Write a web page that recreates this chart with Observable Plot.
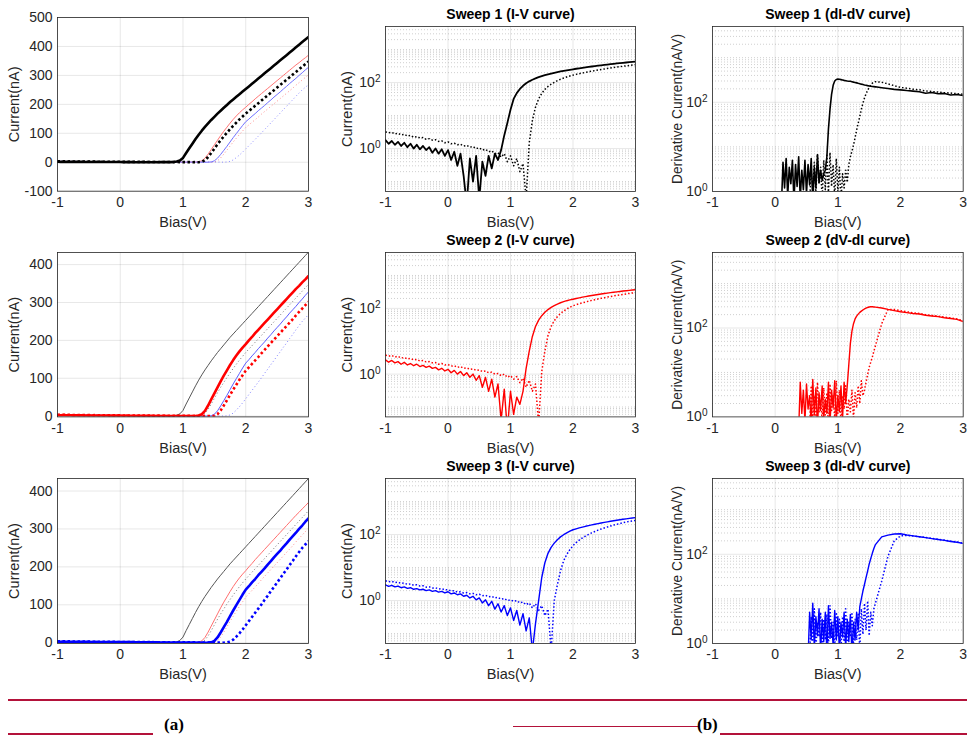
<!DOCTYPE html>
<html>
<head>
<meta charset="utf-8">
<script src="https://cdn.jsdelivr.net/npm/d3@7"></script>
<script src="https://cdn.jsdelivr.net/npm/@observablehq/plot@0.6"></script>
<style>
  html, body { margin: 0; padding: 0; background: #fff; }
  #root { position: relative; width: 967px; height: 738px; overflow: hidden; background: #fff; }
  .panel { position: absolute; }
  .panel svg { max-width: none !important; overflow: visible; }
  .bar { position: absolute; background: #b3123a; }
  .tag { position: absolute; font: bold 17px "Liberation Serif", "Times New Roman", serif; color: #000; line-height: 1; }
</style>
</head>
<body>
<div id="root"></div>
<script>
// ---------------- DATA ----------------
const _ = null;

// bias grid for I-V curves (V)
const bias = [
  -1.00,-0.95,-0.90,-0.85,-0.80,-0.75,-0.70,-0.65,-0.60,-0.55,
  -0.50,-0.45,-0.40,-0.35,-0.30,-0.25,-0.20,-0.15,-0.10,-0.05,
   0.00, 0.05, 0.10, 0.15, 0.20, 0.25, 0.30, 0.35, 0.40, 0.45,
   0.50, 0.55, 0.60, 0.65, 0.70, 0.75, 0.80, 0.85, 0.90, 0.95,
   1.00, 1.05, 1.10, 1.15, 1.20, 1.25, 1.30, 1.35, 1.40, 1.45,
   1.50, 1.55, 1.60, 1.65, 1.70, 1.75, 1.80, 1.85, 1.90, 1.95,
   2.00, 2.05, 2.10, 2.15, 2.20, 2.25, 2.30, 2.35, 2.40, 2.45,
   2.50, 2.55, 2.60, 2.65, 2.70, 2.75, 2.80, 2.85, 2.90, 2.95,
   3.00
];

// |current| (nA), sweep 1 forward (solid) / reverse (dotted)
const sweep1Fwd = [
  1.8,1.4,1.7,1.3,1.6,1.2,1.5,1.1,1.4,1.0,
  1.3,0.95,1.2,0.9,1.1,0.75,1.0,0.7,0.95,0.6,
  0.9,0.45,0.8,0.3,0.7,0.15,0.02,0.5,0.1,0.6,
  0.03,0.4,0.15,0.6,0.25,0.7,0.45,0.9,2.5,6,
  15,32,48,64,80,95,109,122,134,146,
  157,168,178,188,198,208,217,226,235,244,
  253,262,271,280,289,298,307,316,325,334,
  343,352,361,370,379,388,397,406,415,424,
  433
];
const sweep1Rev = [
  3.2,3.0,3.1,2.8,2.9,2.6,2.7,2.4,2.5,2.2,
  2.3,2.1,2.15,1.9,2.0,1.8,1.85,1.65,1.7,1.5,
  1.6,1.4,1.45,1.3,1.35,1.2,1.25,1.1,1.15,1.0,
  1.05,0.9,0.95,0.8,0.85,0.7,0.75,0.55,0.7,0.4,
  0.6,0.3,0.5,0.2,0.35,0.03,1.5,7,18,32,
  47,62,76,89,102,114,126,137,148,158,
  168,177,186,195,204,213,222,231,240,249,
  258,267,276,285,294,303,312,321,330,339,
  348
];
// sweep 2
const sweep2Fwd = [
  2.7,2.3,2.6,2.2,2.4,2.0,2.3,1.9,2.1,1.8,
  2.0,1.7,1.85,1.6,1.75,1.5,1.6,1.35,1.5,1.25,
  1.4,1.1,1.3,1.0,1.2,0.9,1.1,0.8,1.0,0.65,
  0.9,0.4,0.8,0.3,0.7,0.2,0.5,0.04,0.35,0.02,
  0.3,0.06,0.2,0.12,0.3,1.5,5,14,28,44,
  60,76,92,107,121,135,148,160,171,181,
  190,200,209,219,228,237,246,255,264,273,
  282,291,300,309,318,327,336,344,353,361,
  370
];
const sweep2Rev = [
  3.8,3.5,3.7,3.3,3.5,3.1,3.2,2.9,3.0,2.7,
  2.8,2.5,2.6,2.35,2.4,2.2,2.25,2.0,2.1,1.9,
  1.95,1.75,1.8,1.6,1.7,1.5,1.55,1.4,1.45,1.3,
  1.35,1.2,1.25,1.1,1.15,1.0,1.05,0.9,1.0,0.8,
  0.9,0.7,0.85,0.55,0.75,0.4,0.65,0.3,0.5,0.03,
  1.2,5,15,28,42,56,70,83,96,108,
  120,129,138,147,156,166,175,184,193,202,
  211,220,229,238,247,256,266,275,284,293,
  302
];
// sweep 3
const sweep3Fwd = [
  3.0,2.7,2.9,2.6,2.75,2.45,2.6,2.35,2.45,2.2,
  2.3,2.1,2.2,2.0,2.1,1.9,2.0,1.8,1.9,1.7,
  1.85,1.6,1.7,1.5,1.6,1.35,1.45,1.2,1.35,1.05,
  1.2,0.85,1.05,0.7,0.95,0.55,0.8,0.45,0.7,0.35,
  0.6,0.25,0.5,0.18,0.4,0.12,0.3,0.03,0.2,1.0,
  5,14,27,41,55,70,85,99,113,127,
  140,149,159,168,178,187,196,206,215,225,
  234,243,253,262,272,281,290,300,309,319,
  328
];
const sweep3Rev = [
  4.0,3.7,3.85,3.5,3.6,3.3,3.4,3.1,3.2,2.9,
  3.0,2.75,2.8,2.55,2.6,2.4,2.45,2.25,2.3,2.1,
  2.15,1.95,2.0,1.8,1.85,1.7,1.75,1.6,1.65,1.5,
  1.55,1.4,1.45,1.3,1.35,1.2,1.25,1.1,1.15,1.0,
  1.05,0.95,1.0,0.85,0.9,0.75,0.85,0.6,0.8,0.5,
  0.7,0.35,0.55,0.03,1.0,3,8,16,25,35,
  46,57,68,79,90,101,113,124,136,147,
  159,170,182,193,205,216,228,239,250,259,
  268
];

// bias grid for derivative curves (V)
const dBias = [
  0.100,0.125,0.150,0.175, 0.200,0.225,0.250,0.275, 0.300,0.325,0.350,0.375,
  0.400,0.425,0.450,0.475, 0.500,0.525,0.550,0.575, 0.600,0.625,0.650,0.675,
  0.700,0.725,0.750,0.775, 0.800,0.825,0.850,0.875, 0.900,0.925,0.950,0.975,
  1.000,1.025,1.050,1.075, 1.100,1.125,1.150,1.175, 1.200,1.225,1.250,1.275,
  1.300,1.325,1.350,1.375, 1.400,1.425,1.450,1.475, 1.500,1.525,1.550,1.575,
  1.600,
  1.7,1.8,1.9,2.0,2.1,2.2,2.3,2.4,2.5,2.6,2.7,2.8,2.9,3.0
];

// dI/dV (nA/V)
const dSweep1Fwd = [
  0.5,4.5,1.2,5.5, 0.8,3.5,1.5,5, 0.6,4,1.3,6,
  0.7,3,1.1,5, 0.9,4,1.4,5.5, 0.6,3.5,1.2,6.5,
  1.6,3,1.8,2.5, 3,6,25,70, 150,240,300,325,
  330,328,322,316, 310,305,300,297, 295,289,283,278,
  272,266,261,255, 250,245,241,236, 232,229,226,224,
  222,
  212,203,195,190,183,178,172,160,166,155,158,146,150,142
];
const dSweep1Rev = [
  _,_,_,_, _,_,_,_, _,_,_,_,
  _,_,_,_, _,_,0.6,3, 1.2,4.5,0.8,7,
  1.5,3.5,0.7,5, 1.1,6.5,0.9,7.5, 1.3,4,0.7,5.5,
  1.0,3.5,0.6,2.5, 1.2,3,1.6,4, 6,8,11,16,
  24,34,48,70, 95,125,155,185, 215,245,268,282,
  290,
  282,258,236,215,207,196,190,180,174,170,163,162,155,152
];
const dSweep2Fwd = [
  _,_,_,_, _,_,_,_, _,_,_,0.5,
  6,1.2,4,0.8, 5.5,1.5,3,0.7, 7,1.1,4.5,0.6,
  3.5,1.4,5,0.9, 2.5,1.2,6,0.7, 4,1.6,6.5,0.8,
  3,1.3,5,0.9, 6,2,5,15, 45,85,125,160,
  185,205,225,240, 255,268,280,290, 297,300,300,298,
  295,
  282,262,246,232,222,212,206,194,186,180,170,164,156,140
];
const dSweep2Rev = [
  _,_,_,_, _,_,_,_, _,_,_,_,
  _,_,_,_, _,_,0.6,5, 1.0,3,0.7,6,
  1.3,2.5,0.8,4.5, 1.1,3.5,0.6,5.5, 1.4,3,0.9,6.5,
  1.2,4,0.7,3, 1.5,5,0.8,2.5, 1.3,4,0.9,3.5,
  1.6,5,2,6.5, 3,4,6,9, 13,17,22,30,
  40,
  125,262,262,245,232,220,212,200,192,185,175,168,160,146
];
const dSweep3Fwd = [
  _,_,_,_, _,_,_,_, _,_,_,_,
  _,_,_,_, _,0.5,5,1.2, 8,0.8,4,1.5,
  6,0.7,3.5,1.1, 5,0.6,7,1.3, 3,0.9,5.5,1.2,
  4,0.7,3,1.4, 5,0.8,3.5,1.1, 4.5,0.6,3,1.2,
  5,2,6.6,10, 15,21,30,42, 60,80,105,135,
  165,
  245,268,285,288,270,258,248,236,225,214,205,194,186,175
];
const dSweep3Rev = [
  _,_,_,_, _,_,_,_, _,_,_,_,
  _,_,_,_, _,_,0.6,4, 1.1,6,0.8,3,
  1.4,5,0.7,3.5, 1.2,4.5,0.9,7, 1.3,3,0.8,5,
  1.5,3.5,0.7,4, 1.1,6,0.9,3, 1.4,5,0.8,3.5,
  1.2,4.5,0.7,6, 1.6,8,2,9, 1.5,5,2.5,6,
  8,
  25,90,200,258,264,258,248,238,228,218,208,198,188,178
];

// ticks and grid values
const biasTicks = [-1, 0, 1, 2, 3];
const linTicksTop = [-100, 0, 100, 200, 300, 400, 500];
const linTicks = [0, 100, 200, 300, 400];
const logTicks = [1, 100];
const ivMinorGrid = [0.06,0.07,0.08,0.09,0.1,0.2,0.3,0.4,0.5,0.6,0.7,0.8,0.9,
  2,3,4,5,6,7,8,9,10,20,30,40,50,60,70,80,90,200,300,400,500,600,700,800,900,1000,2000,3000,4000];
const dMinorGrid = [2,3,4,5,6,7,8,9,10,20,30,40,50,60,70,80,90,200,300,400,500,600,700,800,900,1000,2000,3000,4000];

const titlesIV = ["Sweep 1 (I-V curve)", "Sweep 2 (I-V curve)", "Sweep 3 (I-V curve)"];
const titlesD = ["Sweep 1 (dI-dV curve)", "Sweep 2 (dV-dI curve)", "Sweep 3 (dI-dV curve)"];

// ---------------- RENDERING ----------------
const FONT = '"Liberation Sans", Arial, Helvetica, sans-serif';
const root = document.getElementById("root");
const rows = (xs, ys) => xs.map((x, i) => ({x, y: ys[i]}));
const supFmt = d => "10^" + Math.round(Math.log10(d));

function panel(o) {
  const mR = 6, mT = 26, mB = 46;
  const marks = [];
  marks.push(Plot.ruleX(biasTicks, {stroke: "#000", strokeOpacity: 0.12, strokeWidth: 0.8}));
  if (o.minor) marks.push(Plot.ruleY(o.minor, {stroke: "#000", strokeOpacity: 0.28, strokeWidth: 0.7, strokeDasharray: "1,2"}));
  marks.push(Plot.ruleY(o.major, {stroke: "#000", strokeOpacity: 0.12, strokeWidth: 0.8}));
  for (const s of o.series) {
    marks.push(Plot.line(rows(s.x, s.y), {
      x: "x", y: "y", stroke: s.color, strokeWidth: s.width,
      strokeDasharray: s.dash || null, strokeLinecap: s.dash ? "butt" : "round",
      strokeLinejoin: "round", clip: true
    }));
  }
  marks.push(Plot.frame({stroke: "#262626", strokeWidth: 0.8}));
  if (o.title) marks.push(Plot.text([o.title], {frameAnchor: "top", dy: -11.5, text: d => d, textAnchor: "middle", lineAnchor: "middle", fontWeight: "bold", fontSize: 14, fill: "#000"}));
  marks.push(Plot.text([o.ylabel], {frameAnchor: "left", rotate: -90, dx: -o.ylabelDx, text: d => d, textAnchor: "middle", lineAnchor: "middle", fontSize: o.ylabelSize || 14.5, fill: "#262626"}));
  marks.push(Plot.text(["Bias(V)"], {frameAnchor: "bottom", dy: 31, text: d => d, textAnchor: "middle", lineAnchor: "middle", fontSize: 14.5, fill: "#262626"}));

  const svg = Plot.plot({
    width: o.w + o.mL + mR, height: o.h + mT + mB,
    marginLeft: o.mL, marginRight: mR, marginTop: mT, marginBottom: mB,
    x: {domain: [-1, 3], ticks: biasTicks, tickFormat: d => String(d), tickSize: 0, tickPadding: 6, label: null},
    y: {type: o.yType, domain: o.yDomain, ticks: o.yTicks, tickFormat: o.yFormat, tickSize: 0, tickPadding: 5, label: null},
    style: {fontFamily: FONT, fontSize: "14px", color: "#262626", background: "transparent", overflow: "visible"},
    marks
  });
  // superscript exponents on log ticks
  svg.querySelectorAll("text").forEach(t => {
    const m = /^10\^(-?\d+)$/.exec(t.textContent);
    if (m) {
      t.textContent = "10";
      const ts = document.createElementNS("http://www.w3.org/2000/svg", "tspan");
      ts.setAttribute("dy", "-0.5em");
      ts.setAttribute("font-size", "0.72em");
      ts.textContent = m[1];
      t.appendChild(ts);
    }
  });
  const div = document.createElement("div");
  div.className = "panel";
  div.style.left = (o.left - o.mL) + "px";
  div.style.top = (o.top - mT) + "px";
  div.appendChild(svg);
  root.appendChild(div);
}

const ivData = [[sweep1Fwd, sweep1Rev], [sweep2Fwd, sweep2Rev], [sweep3Fwd, sweep3Rev]];
const dData = [[dSweep1Fwd, dSweep1Rev], [dSweep2Fwd, dSweep2Rev], [dSweep3Fwd, dSweep3Rev]];
const mainColor = ["#000000", "#ff0000", "#0000ff"];

// column 1 styles per row (background lines first, highlighted last)
const linStyles = [
  [ {k: 1, r: 0, color: "#ff7373", width: 1}, {k: 1, r: 1, color: "#ff8c8c", width: 1, dash: "1,2.5"},
    {k: 2, r: 0, color: "#6e6eff", width: 1}, {k: 2, r: 1, color: "#8c8cff", width: 1, dash: "1,2.5"},
    {k: 0, r: 1, color: "#000", width: 2.6, dash: "2.5,2.5"}, {k: 0, r: 0, color: "#000", width: 2.6} ],
  [ {k: 0, r: 0, color: "#555", width: 1}, {k: 0, r: 1, color: "#707070", width: 1, dash: "1,2.5"},
    {k: 2, r: 0, color: "#5a5aff", width: 1}, {k: 2, r: 1, color: "#8080ff", width: 1, dash: "1,2.5"},
    {k: 1, r: 1, color: "#ff0000", width: 2.6, dash: "2.5,2.5"}, {k: 1, r: 0, color: "#ff0000", width: 2.6} ],
  [ {k: 0, r: 0, color: "#555", width: 1}, {k: 0, r: 1, color: "#707070", width: 1, dash: "1,2.5"},
    {k: 1, r: 0, color: "#ff6e6e", width: 1}, {k: 1, r: 1, color: "#ff8c8c", width: 1, dash: "1,2.5"},
    {k: 2, r: 1, color: "#0000ff", width: 2.6, dash: "2.5,2.5"}, {k: 2, r: 0, color: "#0000ff", width: 2.6} ]
];

const rowFrames = [
  {lin: {top: 17.3, h: 173.7, dom: [-100, 500], ticks: linTicksTop}, log: {top: 25.7, h: 165}},
  {lin: {top: 252.3, h: 164.4, dom: [-2, 432], ticks: linTicks}, log: {top: 252.3, h: 164.4}},
  {lin: {top: 478.3, h: 165, dom: [-2, 433], ticks: linTicks}, log: {top: 478.3, h: 165}}
];

for (let r = 0; r < 3; r++) {
  const rf = rowFrames[r];
  // column 1: linear I-V, all sweeps
  panel({
    left: 57.3, top: rf.lin.top, w: 251, h: rf.lin.h, mL: 57,
    yType: "linear", yDomain: rf.lin.dom, yTicks: rf.lin.ticks, yFormat: d => String(d),
    major: rf.lin.ticks, minor: null, ylabel: "Current(nA)", ylabelDx: 43,
    series: linStyles[r].map(s => ({x: bias, y: ivData[s.k][s.r], color: s.color, width: s.width, dash: s.dash}))
  });
  // column 2: log I-V
  panel({
    left: 385, top: rf.log.top, w: 250, h: rf.log.h, mL: 62,
    yType: "log", yDomain: [0.05, 5000], yTicks: logTicks, yFormat: supFmt,
    major: logTicks, minor: ivMinorGrid, ylabel: "Current(nA)", ylabelDx: 38, title: titlesIV[r],
    series: [
      {x: bias, y: ivData[r][1], color: mainColor[r], width: 1.5, dash: "1.5,2"},
      {x: bias, y: ivData[r][0], color: mainColor[r], width: r === 0 ? 1.8 : 1.4}
    ]
  });
  // column 3: log dI/dV
  panel({
    left: 712, top: rf.log.top, w: 250.7, h: rf.log.h, mL: 62,
    yType: "log", yDomain: [1, 5000], yTicks: logTicks, yFormat: supFmt,
    major: [100], minor: dMinorGrid, ylabel: "Derivative Current(nA/V)", ylabelDx: 35, ylabelSize: 13.8, title: titlesD[r],
    series: [
      {x: dBias, y: dData[r][1], color: mainColor[r], width: 1.5, dash: "1.5,2"},
      {x: dBias, y: dData[r][0], color: mainColor[r], width: r === 0 ? 1.6 : 1.4}
    ]
  });
}

// bottom rules and sub-figure tags
function addDiv(cls, css, text) {
  const d = document.createElement("div");
  d.className = cls;
  Object.assign(d.style, css);
  if (text) d.textContent = text;
  root.appendChild(d);
}
addDiv("bar", {left: "8px", top: "699px", width: "959px", height: "1.5px"});
addDiv("bar", {left: "8px", top: "733px", width: "145px", height: "2px"});
addDiv("tag", {left: "164px", top: "716px"}, "(a)");
addDiv("bar", {left: "513px", top: "725.5px", width: "185px", height: "1px"});
addDiv("tag", {left: "697px", top: "716px"}, "(b)");
addDiv("bar", {left: "720px", top: "733px", width: "247px", height: "2px"});
</script>
</body>
</html>
